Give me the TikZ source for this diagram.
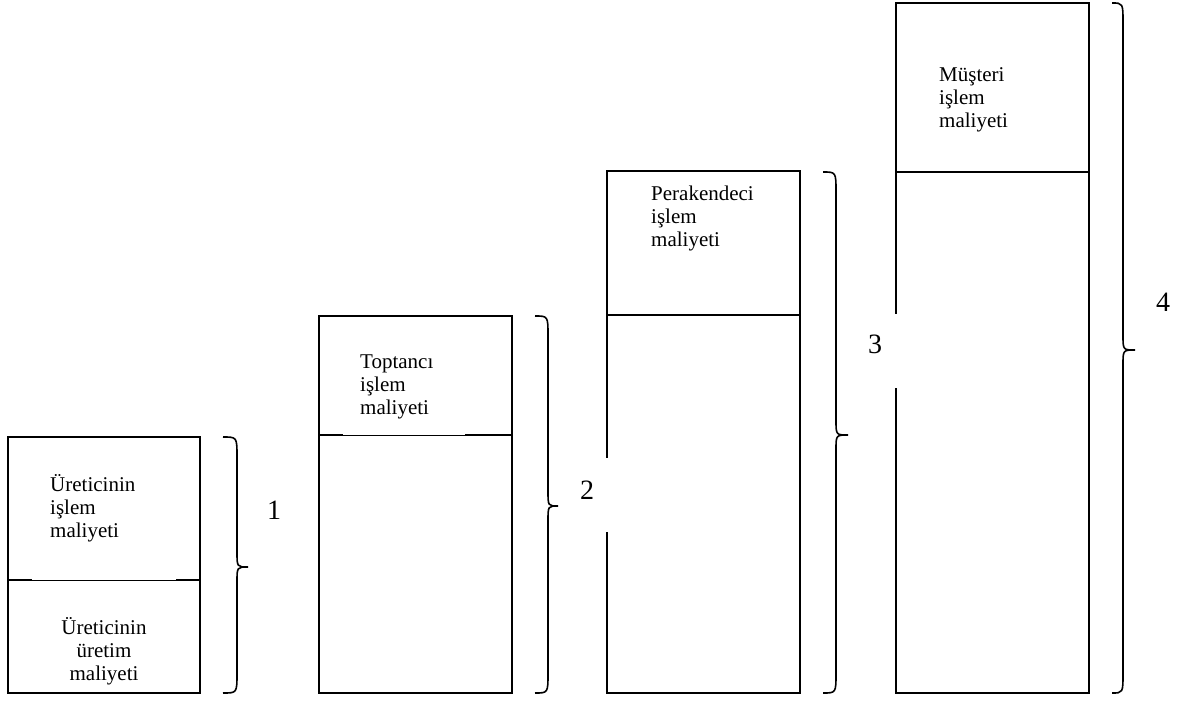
\documentclass[tikz,border=0pt]{standalone}
\usepackage{fontspec}
\setmainfont{Liberation Serif}
\tikzset{
  boxline/.style={line width=1.8pt},
  thinline/.style={line width=0.9pt},
  bracel/.style={line width=1.6pt},
  boxtext/.style={inner sep=0pt, font=\fontsize{21}{23}\selectfont},
  numtext/.style={inner sep=0pt, font=\fontsize{28}{30}\selectfont},
  whiteframe/.style={fill=white, draw=none}
}
\newcommand{\mybrace}[6]{% x0 x1 x2 ytop ytip ybot
  \draw[bracel] (#1,#4) .. controls (#2,#4) .. (#2,#4+20) -- (#2,#5-15)
    .. controls (#2,#5) .. (#3,#5) .. controls (#2,#5) .. (#2,#5+15)
    -- (#2,#6-20) .. controls (#2,#6) .. (#1,#6);}
\begin{document}
\begin{tikzpicture}[x=1pt,y=-1pt]
\useasboundingbox[fill=white] (0,0) rectangle (1184,704);
% boxes
\draw[boxline] (8,437) rectangle (200,693);
\draw[thinline] (8,580) -- (200,580);
\draw[boxline] (8,580) -- (32,580) (176,580) -- (200,580);
\draw[boxline] (319,316) rectangle (512,693);
\draw[thinline] (319,435) -- (512,435);
\draw[boxline] (319,435) -- (343,435) (465,435) -- (512,435);
\draw[boxline] (607,171) rectangle (800,693);
\draw[boxline] (607,315) -- (800,315);
\draw[boxline] (896,3) rectangle (1089,693);
\draw[boxline] (896,172) -- (1089,172);
% texts
\node[boxtext, anchor=base west] (t1) at (50,491) {\begin{tabular}[t]{@{}l@{}}Üreticinin\\işlem\\maliyeti\end{tabular}};
\node[boxtext, anchor=base] (t1b) at (104,634) {\begin{tabular}[t]{@{}c@{}}Üreticinin\\üretim\\maliyeti\end{tabular}};
\node[boxtext, anchor=base west] (t2) at (360,368) {\begin{tabular}[t]{@{}l@{}}Toptancı\\işlem\\maliyeti\end{tabular}};
\node[boxtext, anchor=base west] (t3) at (651,200) {\begin{tabular}[t]{@{}l@{}}Perakendeci\\işlem\\maliyeti\end{tabular}};
\node[boxtext, anchor=base west] (t4) at (939,81) {\begin{tabular}[t]{@{}l@{}}Müşteri\\işlem\\maliyeti\end{tabular}};
% white label frames
\fill[whiteframe] (562,458) rectangle (615,532);
\fill[whiteframe] (852,314) rectangle (905,388);
% numbers
\node[numtext] (n1) at (274,510) {1};
\node[numtext] (n2) at (587,490) {2};
\node[numtext] (n3) at (875,344) {3};
\node[numtext] (n4) at (1163,302) {4};
% braces
\mybrace{223}{237}{248}{437}{567}{693}
\mybrace{535}{548}{558}{316}{506}{693}
\mybrace{823}{836}{848}{172}{435}{693}
\mybrace{1112}{1123}{1135}{3}{350}{693}
\end{tikzpicture}
\end{document}
